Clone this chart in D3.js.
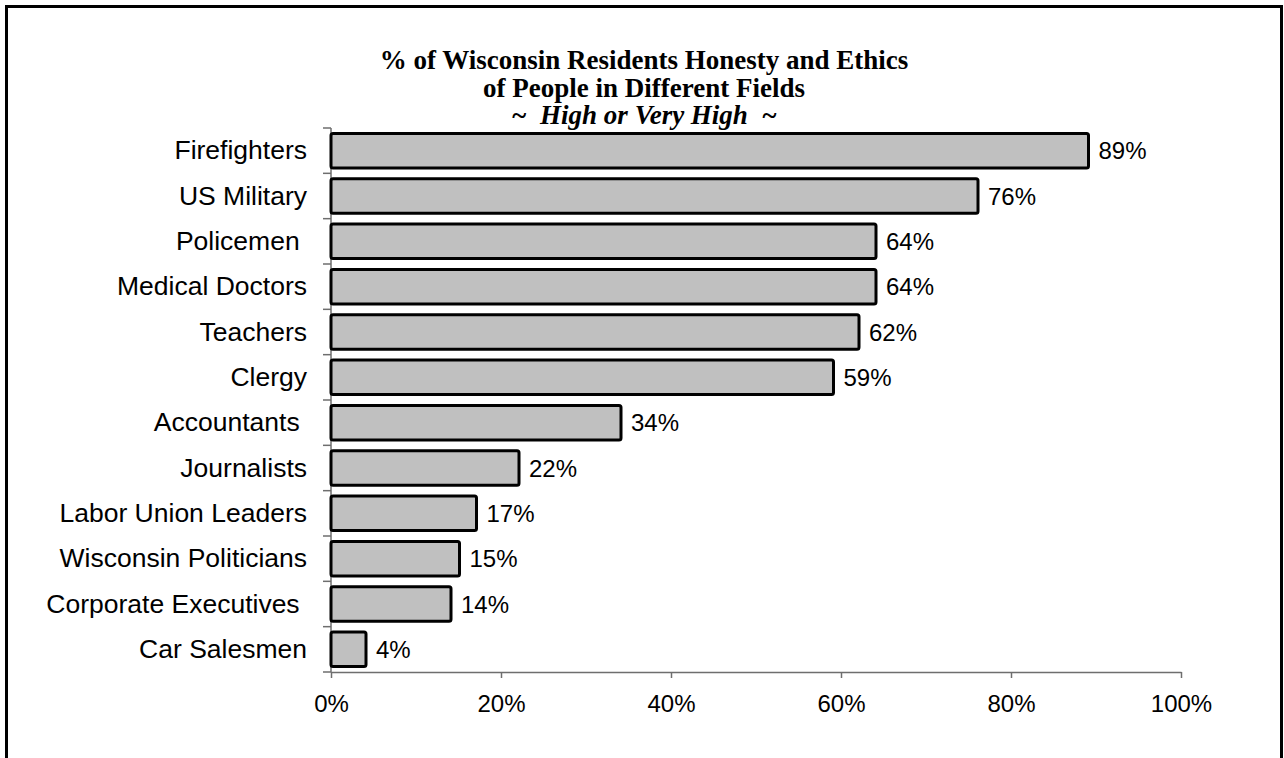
<!DOCTYPE html>
<html>
<head>
<meta charset="utf-8">
<script src="https://cdn.jsdelivr.net/npm/d3@7"></script>
<style>
  body { margin: 0; background: #fff; }
</style>
</head>
<body>
<div id="container"></div>
<script>
const fields = ["Firefighters", "US Military", "Policemen ", "Medical Doctors", "Teachers", "Clergy",
                "Accountants ", "Journalists", "Labor Union Leaders", "Wisconsin Politicians",
                "Corporate Executives ", "Car Salesmen"]
const shares = [89, 76, 64, 64, 62, 59, 34, 22, 17, 15, 14, 4]
const tickValues = [0, 20, 40, 60, 80, 100]
const titleLines = ["% of Wisconsin Residents Honesty and Ethics", "of People in Different Fields"]
const subtitle = "~  High or Very High  ~"

const width = 1284
const height = 758
const margin = {top: 128, left: 331, right: 103, bottom: 86}

const svg = d3.select("#container").append("svg")
            .attr("width", width)
            .attr("height", height)

// outer frame
svg.append("rect")
    .attr("x", 6.5)
    .attr("y", 6.5)
    .attr("width", 1275)
    .attr("height", 800)
    .style("fill", "white")
    .style("stroke", "black")
    .style("stroke-width", 3)

const x = d3.scaleLinear()
            .domain([0, 100])
            .range([margin.left, width - margin.right])

const y = d3.scaleBand()
            .domain(fields)
            .range([margin.top, height - margin.bottom])
            .paddingInner(0.24)
            .paddingOuter(0.12)

const axisColor = "#6e6e6e"

// y axis line + category ticks
const yAxis = svg.append("g")
svg.append("line")
    .attr("x1", x(0)).attr("x2", x(0))
    .attr("y1", margin.top).attr("y2", height - margin.bottom)
    .style("stroke", axisColor).style("stroke-width", 1.5)

const step = y.step()
yAxis.selectAll("line")
    .data(d3.range(fields.length + 1))
    .enter()
    .append("line")
    .attr("x1", x(0) - 8).attr("x2", x(0))
    .attr("y1", i => margin.top + i * step)
    .attr("y2", i => margin.top + i * step)
    .style("stroke", axisColor).style("stroke-width", 1.5)

yAxis.selectAll("text")
    .data(fields)
    .enter()
    .append("text")
    .attr("x", x(0) - 24)
    .attr("y", d => y(d) + y.bandwidth() / 2 + 8.5)
    .attr("text-anchor", "end")
    .style("white-space", "pre")
    .style("font-family", "Arial, 'Liberation Sans', sans-serif")
    .style("font-size", "26.5px")
    .text(d => d)

// x axis
const xAxis = d3.axisBottom(x)
            .tickValues(tickValues)
            .tickFormat(d => d + "%")
            .tickSize(6)
            .tickSizeOuter(0)

const gx = svg.append("g")
            .attr("transform", `translate(0, ${height - margin.bottom})`)
            .call(xAxis)
gx.select(".domain").style("stroke", axisColor).style("stroke-width", 1.5)
gx.selectAll(".tick line").style("stroke", axisColor).style("stroke-width", 1.5)
gx.selectAll(".tick text")
    .attr("y", 23)
    .attr("dy", "0.71em")
    .style("font-family", "Arial, 'Liberation Sans', sans-serif")
    .style("font-size", "24px")
    .style("fill", "black")

// bars
svg.selectAll(".bar")
    .data(fields)
    .enter()
    .append("rect")
    .attr("class", "bar")
    .attr("x", x(0))
    .attr("y", d => y(d))
    .attr("width", (d, i) => x(shares[i]) - x(0) + 1)
    .attr("height", y.bandwidth())
    .attr("rx", 2)
    .style("fill", "#c0c0c0")
    .style("stroke", "black")
    .style("stroke-width", 3)

svg.selectAll(".value")
    .data(fields)
    .enter()
    .append("text")
    .attr("class", "value")
    .attr("x", (d, i) => x(shares[i]) + 11)
    .attr("y", d => y(d) + y.bandwidth() / 2 + 8.5)
    .style("font-family", "Arial, 'Liberation Sans', sans-serif")
    .style("font-size", "24px")
    .text((d, i) => shares[i] + "%")

// title
const title = svg.append("g")
    .style("font-family", "'Times New Roman', 'Liberation Serif', serif")
    .style("font-weight", "bold")
    .style("font-size", "27px")
    .attr("text-anchor", "middle")

title.selectAll("text")
    .data(titleLines)
    .enter()
    .append("text")
    .attr("x", 644)
    .attr("y", (d, i) => 69 + i * 27.5)
    .text(d => d)

title.append("text")
    .attr("x", 644)
    .attr("y", 124)
    .style("font-style", "italic")
    .style("white-space", "pre")
    .text(subtitle)
</script>
</body>
</html>
